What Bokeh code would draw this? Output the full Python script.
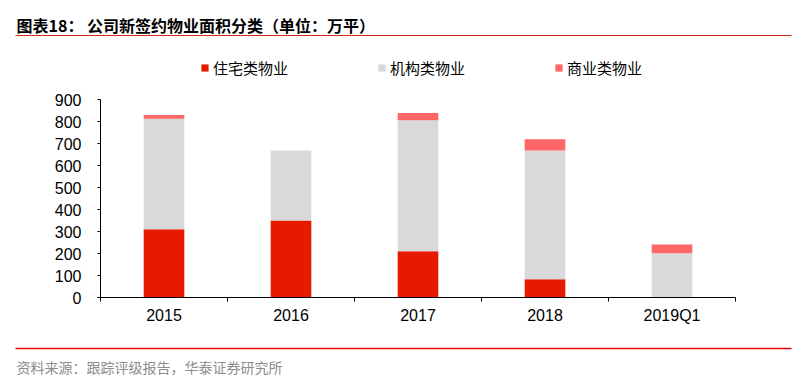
from bokeh.plotting import figure
from bokeh.models import (Range1d, FixedTicker, Legend, LegendItem, Label,
                          ColumnDataSource)
from bokeh.embed import file_html
from bokeh.resources import INLINE

# ---- data ----
years = ["2015", "2016", "2017", "2018", "2019Q1"]
residential = [310, 350, 210, 83, 0]        # 住宅类物业
institutional = [502, 318, 596, 585, 201]   # 机构类物业
commercial = [17, 0, 33, 51, 40]            # 商业类物业
series_names = ["住宅类物业", "机构类物业", "商业类物业"]
colors = ["#E61A00", "#D9D9D9", "#FF6666"]
y_ticks = [0, 100, 200, 300, 400, 500, 600, 700, 800, 900]
title_text = "图表18：  公司新签约物业面积分类（单位：万平）"
source_text = "资料来源：跟踪评级报告，华泰证券研究所"

CJK = "Noto Sans CJK SC"
LATIN = "Liberation Sans"

# ---- page layout (pixels) ----
W, H = 798, 387
AX_LEFT, AX_RIGHT = 100, 735      # x axis extent
AX_BOTTOM, AX_TOP = 297, 99       # y = 0 and y = top tick

px_x = (AX_RIGHT - AX_LEFT) / len(years)
px_y = (AX_BOTTOM - AX_TOP) / y_ticks[-1]


def dx(px):
    return (px - AX_LEFT) / px_x


def dy(py):
    return (AX_BOTTOM - py) / px_y


p = figure(width=W, height=H,
           x_range=Range1d(dx(0), dx(W)), y_range=Range1d(dy(H), dy(0)),
           output_backend="svg", toolbar_location=None, min_border=0)
p.outline_line_color = None
p.xgrid.visible = False
p.ygrid.visible = False

xs = [i + 0.5 for i in range(len(years))]
src = ColumnDataSource(dict(x=xs, res=residential, ins=institutional, com=commercial))
rs = p.vbar_stack(["res", "ins", "com"], x="x", width=0.32, source=src,
                  fill_color=colors, line_color=None)

# x axis: labels at category centres, ticks at category boundaries
xa = p.xaxis[0]
xa.fixed_location = 0
xa.bounds = (0, len(years))
xa.ticker = FixedTicker(ticks=xs, minor_ticks=list(range(len(years) + 1)))
xa.major_label_overrides = {x: y for x, y in zip(xs, years)}
xa.major_tick_out = 0
xa.major_tick_in = 0
xa.minor_tick_out = 4
xa.minor_tick_in = 0
xa.minor_tick_line_color = "black"
xa.axis_line_color = "black"
xa.major_label_standoff = 5
xa.major_label_text_font = LATIN
xa.major_label_text_font_size = "16px"
xa.major_label_text_color = "black"

ya = p.yaxis[0]
ya.fixed_location = 0
ya.bounds = (0, y_ticks[-1])
ya.ticker = FixedTicker(ticks=y_ticks)
ya.major_tick_out = 3
ya.major_tick_in = 0
ya.minor_tick_out = 0
ya.minor_tick_in = 0
ya.axis_line_color = "black"
ya.major_tick_line_color = "black"
ya.major_label_standoff = 16
ya.major_label_text_font = LATIN
ya.major_label_text_font_size = "16px"
ya.major_label_text_color = "black"

legend = Legend(items=[LegendItem(label=n, renderers=[r]) for n, r in zip(series_names, rs)],
                orientation="horizontal", location=(200, H - 78),
                glyph_width=9, glyph_height=9, label_standoff=4, spacing=89,
                padding=0, margin=0, border_line_color=None,
                background_fill_alpha=0,
                label_text_font=CJK, label_text_font_size="15px",
                label_text_color="black", label_height=9)
p.add_layout(legend, "center")

# ---- title, rules, source ----
p.add_layout(Label(x=dx(16), y=dy(24), text=title_text, text_font=CJK,
                   text_font_style="bold", text_font_size="16px",
                   text_baseline="middle", text_color="black"))
p.segment(x0=dx(15), y0=dy(35), x1=dx(791), y1=dy(35),
          line_color="#D42A1E", line_width=1.2)
p.segment(x0=dx(15), y0=dy(348), x1=dx(791), y1=dy(348),
          line_color="#E60000", line_width=1.4)
p.add_layout(Label(x=dx(16), y=dy(366.7), text=source_text, text_font=CJK,
                   text_font_size="14px", text_baseline="middle", text_color="#8C8C8C"))

open("out.html", "w").write(file_html(p, INLINE))
